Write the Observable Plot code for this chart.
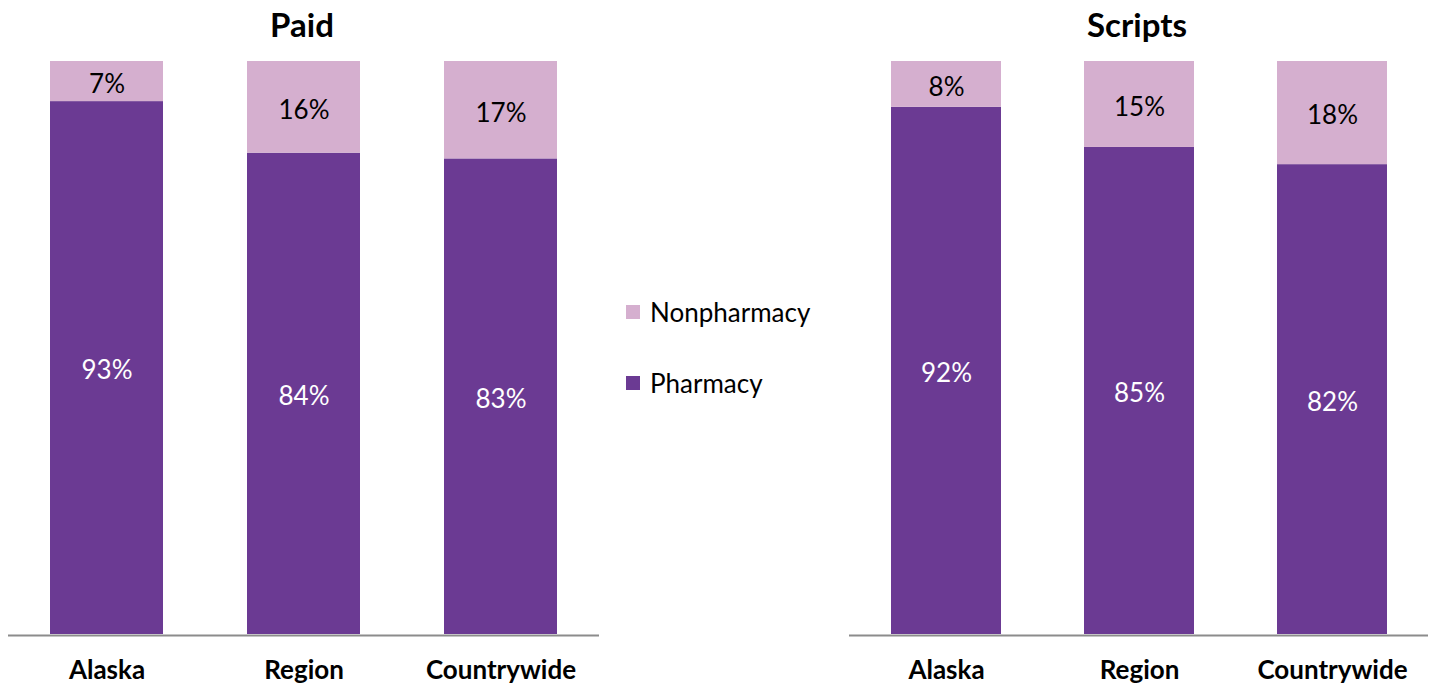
<!DOCTYPE html>
<html>
<head>
<meta charset="utf-8">
<script src="https://cdn.jsdelivr.net/npm/d3@7"></script>
<script src="https://cdn.jsdelivr.net/npm/@observablehq/plot@0.6"></script>
<style>
  html, body { margin: 0; padding: 0; background: #fff; }
  #wrap { position: relative; width: 1432px; height: 688px; font-family: Lato, "Open Sans", sans-serif; }
  #left, #right { position: absolute; top: 0; }
  #left { left: 0; }
  #right { left: 830px; }
  .legend-item { position: absolute; left: 626px; display: flex; align-items: center; font-size: 26px; color: #000; }
  .sw { width: 14px; height: 14px; margin-right: 10px; }
</style>
</head>
<body>
<div id="wrap">
  <div id="left"></div>
  <div id="right"></div>
  <div class="legend-item" style="top:296px"><span class="sw" style="background:#D5AFCF"></span>Nonpharmacy</div>
  <div class="legend-item" style="top:367px"><span class="sw" style="background:#6B3A93"></span>Pharmacy</div>
</div>
<script>
const categories = ["Alaska", "Region", "Countrywide"];
const series = ["Pharmacy", "Nonpharmacy"];
const paidPharmacy = [93, 84, 83];
const paidNonpharmacy = [7, 16, 17];
const scriptsPharmacy = [92, 85, 82];
const scriptsNonpharmacy = [8, 15, 18];
const colors = ["#6B3A93", "#D5AFCF"];
const labelColors = ["#ffffff", "#000000"];

function rows(pharm, nonpharm) {
  const out = [];
  categories.forEach((c, i) => out.push({cat: c, type: series[0], value: pharm[i]}));
  categories.forEach((c, i) => out.push({cat: c, type: series[1], value: nonpharm[i]}));
  return out;
}

function panel(title, data, opts) {
  return Plot.plot({
    width: opts.width,
    height: 688,
    marginTop: 61,
    marginBottom: 54,
    marginLeft: opts.ml,
    marginRight: opts.mr,
    style: {fontFamily: "Lato, 'Open Sans', sans-serif", background: "transparent"},
    x: {domain: categories, paddingInner: opts.pi, paddingOuter: opts.po, label: null},
    y: {domain: [0, 100], axis: null},
    color: {domain: series, range: colors},
    marks: [
      Plot.barY(data, Plot.stackY({x: "cat", y: "value", z: "type", fill: "type"})),
      Plot.text(data, Plot.stackY({
        x: "cat", y: "value", z: "type",
        text: d => d.value + "%",
        fill: d => labelColors[series.indexOf(d.type)],
        fontSize: 26,
        dy: 3
      })),
      Plot.ruleY([0], {stroke: "#8c8c8c", strokeWidth: 2, dy: 1}),
      Plot.axisX({tickSize: 0, tickPadding: 26, fontSize: 26, fontWeight: "bold", fill: "#000", label: null}),
      Plot.text([title], {frameAnchor: "top", lineAnchor: "middle", dx: -2, dy: -35, text: d => d, fontSize: 33, fontWeight: "bold", fill: "#000"})
    ]
  });
}

document.getElementById("left").append(panel("Paid", rows(paidPharmacy, paidNonpharmacy),
  {width: 610, ml: 8, mr: 11, pi: 0.426, po: 0.213}));
document.getElementById("right").append(panel("Scripts", rows(scriptsPharmacy, scriptsNonpharmacy),
  {width: 602, ml: 19, mr: 4, pi: 0.4315, po: 0.212}));
</script>
</body>
</html>
